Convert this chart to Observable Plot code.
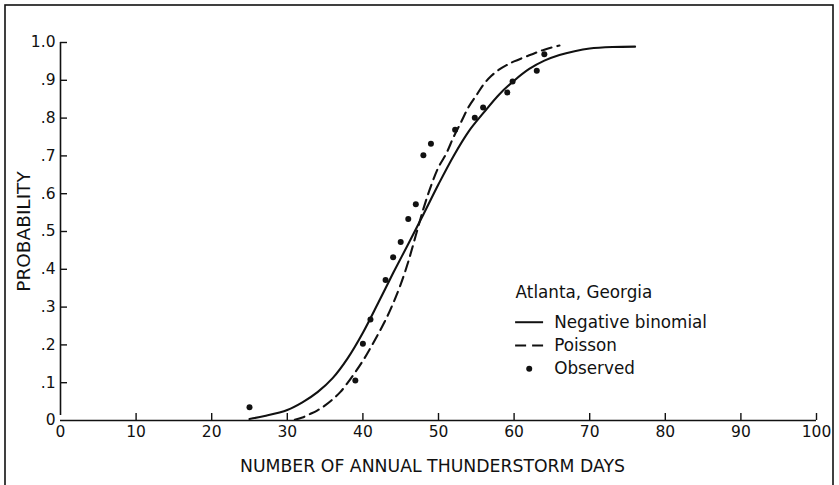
<!DOCTYPE html>
<html>
<head>
<meta charset="utf-8">
<script src="https://cdn.jsdelivr.net/npm/d3@7"></script>
<script src="https://cdn.jsdelivr.net/npm/@observablehq/plot@0.6"></script>
<style>
  html, body { margin: 0; padding: 0; background: #fff; }
  #chart svg { display: block; }
</style>
</head>
<body>
<div id="chart"></div>
<script>
// Observed probabilities (dots)
const obsDays = [25, 39, 40, 41, 43, 44, 45, 46, 47, 48, 49, 52.2, 54.8, 55.9, 59.1, 59.8, 63, 64];
const obsProb = [0.035, 0.106, 0.203, 0.267, 0.372, 0.432, 0.472, 0.533, 0.572, 0.702, 0.732, 0.769, 0.801, 0.828, 0.868, 0.897, 0.925, 0.969];

// Negative binomial fit (solid line)
const nbDays = [25, 27, 30, 32, 34, 36, 38, 40, 42, 44, 46, 48, 50, 52, 54, 56, 58, 60, 62, 64, 66, 68, 70, 73, 76];
const nbProb = [0.004, 0.012, 0.028, 0.048, 0.075, 0.112, 0.165, 0.232, 0.310, 0.390, 0.467, 0.545, 0.625, 0.700, 0.765, 0.815, 0.862, 0.899, 0.930, 0.952, 0.967, 0.977, 0.984, 0.988, 0.989];

// Poisson fit (dashed line)
const poDays = [31, 32, 33, 34, 35, 36, 37, 38, 39, 40, 41, 42, 43, 44, 45, 46, 47, 48, 49, 50, 51, 52, 53, 54, 55, 56, 57, 58, 59, 60, 62, 64, 66];
const poProb = [0.002, 0.008, 0.017, 0.027, 0.040, 0.056, 0.075, 0.100, 0.128, 0.158, 0.192, 0.228, 0.266, 0.310, 0.360, 0.420, 0.490, 0.560, 0.620, 0.670, 0.705, 0.750, 0.790, 0.830, 0.860, 0.890, 0.912, 0.928, 0.940, 0.950, 0.966, 0.981, 0.992];

// Axis ticks and labels
const xTicks = [0, 10, 20, 30, 40, 50, 60, 70, 80, 90, 100];
const xTickLabels = ["0", "10", "20", "30", "40", "50", "60", "70", "80", "90", "100"];
const yTicks = [0, 0.1, 0.2, 0.3, 0.4, 0.5, 0.6, 0.7, 0.8, 0.9, 1.0];
const yTickLabels = ["0", ".1", ".2", ".3", ".4", ".5", ".6", ".7", ".8", ".9", "1.0"];

const xTitle = "NUMBER OF ANNUAL THUNDERSTORM DAYS";
const yTitle = "PROBABILITY";
const legendTitle = "Atlanta, Georgia";
const legendLabels = ["Negative binomial", "Poisson", "Observed"];

// Build tables for the library
const observed = obsDays.map((d, i) => ({days: d, p: obsProb[i]}));
const negBin = nbDays.map((d, i) => ({days: d, p: nbProb[i]}));
const poisson = poDays.map((d, i) => ({days: d, p: poProb[i]}));
const xTickData = xTicks.map((v, i) => ({v, label: xTickLabels[i]}));
const yTickData = yTicks.map((v, i) => ({v, label: yTickLabels[i]}));

// Legend placement (in data units)
const legX = 60.2, legTextX = 65.3, legY0 = 0.339, legGap = 0.079, legStep = 0.0615;
const legRows = legendLabels.map((label, i) => ({label, y: legY0 - legGap - i * legStep}));

const FONT = "DejaVu Sans, sans-serif";
const INK = "#111";

const chart = Plot.plot({
  width: 839,
  height: 485,
  marginLeft: 60,
  marginRight: 23,
  marginTop: 42,
  marginBottom: 65,
  style: {fontFamily: FONT, background: "#fff", color: INK, overflow: "visible"},
  x: {domain: [xTicks[0], xTicks[xTicks.length - 1]], axis: null},
  y: {domain: [yTicks[0], yTicks[yTicks.length - 1]], axis: null},
  marks: [
    // axis lines
    Plot.ruleY([yTicks[0]], {x1: xTicks[0], x2: xTicks[xTicks.length - 1], stroke: INK, strokeWidth: 1.6}),
    Plot.ruleX([xTicks[0]], {y1: yTicks[0], y2: yTicks[yTicks.length - 1], insetTop: -5, stroke: INK, strokeWidth: 1.6}),
    // inward ticks
    Plot.ruleX(xTicks.slice(1), {x: d => d, y1: yTicks[0], y2: yTicks[0], insetTop: -7, stroke: INK, strokeWidth: 1.4}),
    Plot.ruleY(yTicks.slice(1), {y: d => d, x1: xTicks[0], x2: xTicks[0], insetRight: -7, stroke: INK, strokeWidth: 1.4}),
    // tick labels
    Plot.text(xTickData, {x: "v", y: yTicks[0], dy: 12, text: "label", fontSize: 15.5, fill: INK}),
    Plot.text(yTickData, {x: xTicks[0], y: "v", dx: -5, textAnchor: "end", text: "label", fontSize: 15.5, fill: INK}),
    // axis titles
    Plot.text([xTitle], {frameAnchor: "bottom", textAnchor: "middle", lineAnchor: "middle", dy: 46, dx: -6, text: d => d, fontSize: 17.3, fill: INK}),
    Plot.text([yTitle], {frameAnchor: "left", textAnchor: "middle", lineAnchor: "middle", dx: -36, text: d => d, rotate: -90, fontSize: 18.5, fill: INK}),
    // curves
    Plot.line(negBin, {x: "days", y: "p", stroke: INK, strokeWidth: 2.1, curve: "catmull-rom"}),
    Plot.line(poisson, {x: "days", y: "p", stroke: INK, strokeWidth: 2.1, strokeDasharray: "10,6", curve: "catmull-rom"}),
    Plot.dot(observed, {x: "days", y: "p", r: 3, fill: INK, stroke: "none"}),
    // legend
    Plot.text([legendTitle], {x: legX, y: legY0, text: d => d, textAnchor: "start", fontSize: 16.8, fill: INK}),
    Plot.text(legRows, {x: legTextX, y: "y", text: "label", textAnchor: "start", fontSize: 16.8, fill: INK}),
    Plot.ruleY([legRows[0]], {y: "y", x1: legX, x2: legX + 3.7, stroke: INK, strokeWidth: 2}),
    Plot.ruleY([legRows[1]], {y: "y", x1: legX, x2: legX + 3.7, stroke: INK, strokeWidth: 2, strokeDasharray: "11,6"}),
    Plot.dot([legRows[2]], {x: legX + 1.8, y: "y", r: 3, fill: INK, stroke: "none"})
  ]
});

document.getElementById("chart").appendChild(chart);

// outer border frame of the figure
d3.select(chart).append("rect")
  .attr("x", 5).attr("y", 5)
  .attr("width", 828).attr("height", 520)
  .attr("fill", "none").attr("stroke", INK).attr("stroke-width", 1.6);
</script>
</body>
</html>
